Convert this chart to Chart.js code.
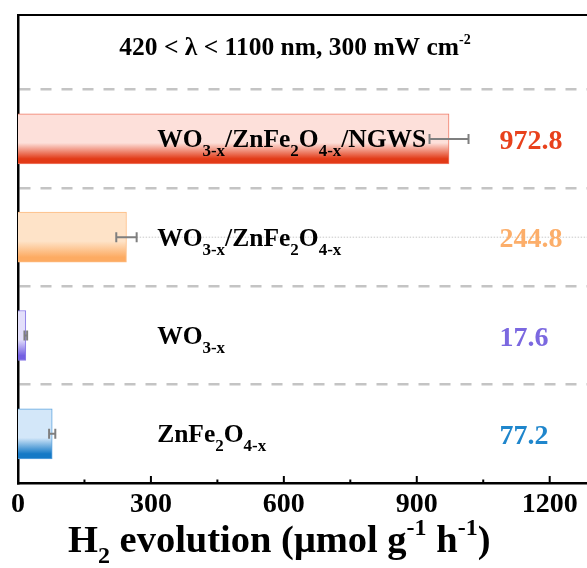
<!DOCTYPE html>
<html>
<head>
<meta charset="utf-8">
<script src="https://cdn.jsdelivr.net/npm/chart.js@4"></script>
<style>
  html, body { margin: 0; padding: 0; background: #fff; overflow: hidden; }
  #wrap { width: 600px; height: 568px; }
</style>
</head>
<body>
<div id="wrap"><canvas id="chart" width="600" height="568"></canvas></div>
<script>
// Data, top bar first
const categories = ['WO_{3-x}/ZnFe_{2}O_{4-x}/NGWS', 'WO_{3-x}/ZnFe_{2}O_{4-x}', 'WO_{3-x}', 'ZnFe_{2}O_{4-x}'];
const rates = [972.8, 244.8, 17.6, 77.2];
const errors = [44, 23, 3, 7];
const xTicks = [0, 300, 600, 900, 1200];
const conditionText = '420 < λ < 1100 nm, 300 mW cm^{-2}';
const axisTitle = 'H_{2} evolution (μmol g^{-1} h^{-1})';

// Colours for each bar (light top, saturated bottom)
const palette = [
  { light: '#fde0da', dark: '#e23a17', edge: '#f07a66', text: '#e8411c' },
  { light: '#fee3c8', dark: '#fdab62', edge: '#fdbb80', text: '#fcae6a' },
  { light: '#e3dffb', dark: '#7460e2', edge: '#8a7ae8', text: '#7b68e0' },
  { light: '#d3e7f9', dark: '#1479c6', edge: '#5ea4de', text: '#1f86cc' }
];
const FONT = '"Liberation Serif", "Times New Roman", serif';
const BAR = 50;

const points = rates.map((v, i) => ({ x: v, y: categories.length - i }));

function barGradient(c) {
  const chart = c.chart;
  if (!chart.chartArea || c.dataIndex === undefined) return palette[0].light;
  const p = palette[c.dataIndex];
  const yc = chart.scales.y.getPixelForValue(points[c.dataIndex].y);
  const g = chart.ctx.createLinearGradient(0, yc - BAR / 2, 0, yc + BAR / 2);
  g.addColorStop(0, p.light);
  g.addColorStop(0.58, p.light);
  g.addColorStop(0.9, p.dark);
  g.addColorStop(1, p.dark);
  return g;
}

// split "A_{b}C^{d}" into pieces with sub/superscript shifts
function parseRich(str) {
  const parts = [];
  const re = /([_^])\{([^}]*)\}|([^_^]+)/g;
  let m;
  while ((m = re.exec(str))) {
    if (m[3]) parts.push({ text: m[3], shift: 0 });
    else parts.push({ text: m[2], shift: m[1] === '_' ? 1 : -1 });
  }
  return parts;
}

function drawRich(ctx, str, x, y, o) {
  const parts = parseRich(str);
  const fontFor = p => `bold ${p.shift ? o.small : o.size}px ${FONT}`;
  let width = 0;
  parts.forEach(p => { ctx.font = fontFor(p); p.w = ctx.measureText(p.text).width; width += p.w; });
  let cx = o.align === 'center' ? x - width / 2 : x;
  ctx.textBaseline = 'alphabetic';
  ctx.textAlign = 'left';
  parts.forEach(p => {
    ctx.font = fontFor(p);
    const dy = p.shift > 0 ? o.drop : p.shift < 0 ? -o.rise : 0;
    ctx.fillText(p.text, cx, y + dy);
    cx += p.w;
  });
}

const decorations = {
  id: 'decorations',
  afterDraw(chart) {
    const { ctx, chartArea: a, scales: { x, y } } = chart;
    ctx.save();

    // top frame line
    ctx.strokeStyle = '#000';
    ctx.lineWidth = 2;
    ctx.beginPath();
    ctx.moveTo(a.left - 1, a.top);
    ctx.lineTo(a.right, a.top);
    ctx.lineTo(a.right, a.bottom);
    ctx.stroke();

    // inward ticks
    ctx.lineWidth = 2;
    for (let v = 0; v <= 1300; v += 150) {
      const px = x.getPixelForValue(v);
      const len = v % 300 === 0 ? 7 : 3.5;
      ctx.beginPath();
      ctx.moveTo(px, a.bottom);
      ctx.lineTo(px, a.bottom - len);
      ctx.stroke();
    }

    points.forEach((pt, i) => {
      const yc = y.getPixelForValue(pt.y);
      const lo = x.getPixelForValue(pt.x - errors[i]);
      const hi = x.getPixelForValue(pt.x + errors[i]);

      // faint dotted leader on the second bar
      if (i === 1) {
        ctx.strokeStyle = '#c8c8c8';
        ctx.lineWidth = 1;
        ctx.setLineDash([1.5, 1.5]);
        ctx.beginPath();
        ctx.moveTo(hi, yc);
        ctx.lineTo(a.right, yc);
        ctx.stroke();
        ctx.setLineDash([]);
      }

      // error bar
      ctx.strokeStyle = '#7f7f7f';
      ctx.lineWidth = 2;
      ctx.beginPath();
      ctx.moveTo(lo, yc); ctx.lineTo(hi, yc);
      ctx.moveTo(lo, yc - 5); ctx.lineTo(lo, yc + 5);
      ctx.moveTo(hi, yc - 5); ctx.lineTo(hi, yc + 5);
      ctx.stroke();

      // sample name
      ctx.fillStyle = '#000';
      drawRich(ctx, categories[i], x.getPixelForValue(314), yc + 8.5, { size: 25.5, small: 17, drop: 9, rise: 10 });

      // value
      ctx.fillStyle = palette[i].text;
      ctx.font = `bold 28px ${FONT}`;
      ctx.textAlign = 'left';
      ctx.textBaseline = 'alphabetic';
      ctx.fillText(rates[i].toFixed(1), x.getPixelForValue(1087), yc + 10);
    });

    ctx.fillStyle = '#000';
    drawRich(ctx, conditionText, 295, 55, { size: 25.5, small: 14, drop: 8, rise: 11, align: 'center' });
    drawRich(ctx, axisTitle, 68, 551.5, { size: 38.5, small: 24, drop: 11, rise: 17, align: 'left' });

    ctx.restore();
  }
};

new Chart(document.getElementById('chart'), {
  type: 'bar',
  data: {
    datasets: [{
      data: points,
      backgroundColor: barGradient,
      borderColor: c => palette[c.dataIndex] ? palette[c.dataIndex].edge : '#999',
      borderWidth: 1,
      borderSkipped: 'start',
      barThickness: BAR
    }]
  },
  options: {
    indexAxis: 'y',
    responsive: false,
    animation: false,
    layout: { padding: { top: 15, right: 6, left: 0, bottom: 0 } },
    plugins: { legend: { display: false }, tooltip: { enabled: false } },
    scales: {
      x: {
        type: 'linear',
        min: 0,
        max: 1300,
        afterBuildTicks: s => { s.ticks = xTicks.map(v => ({ value: v })); },
        afterFit: s => { s.height = 85; },
        grid: { display: false },
        border: { color: '#000', width: 2.5 },
        ticks: {
          color: '#000',
          padding: -3,
          autoSkip: false,
          maxRotation: 0,
          callback: v => String(v),
          font: { family: FONT, size: 28, weight: 'bold' }
        }
      },
      y: {
        type: 'linear',
        min: 0.5,
        max: 5.26,
        offset: false,
        afterBuildTicks: s => { s.ticks = [1.5, 2.5, 3.5, 4.5].map(v => ({ value: v })); },
        afterFit: s => { s.width = 18; },
        ticks: { display: false },
        grid: { color: '#c4c4c4', lineWidth: 2.5, drawTicks: false, offset: false },
        border: { color: '#000', width: 2.5, dash: [11, 10] }
      }
    }
  },
  plugins: [decorations]
});
</script>
</body>
</html>
